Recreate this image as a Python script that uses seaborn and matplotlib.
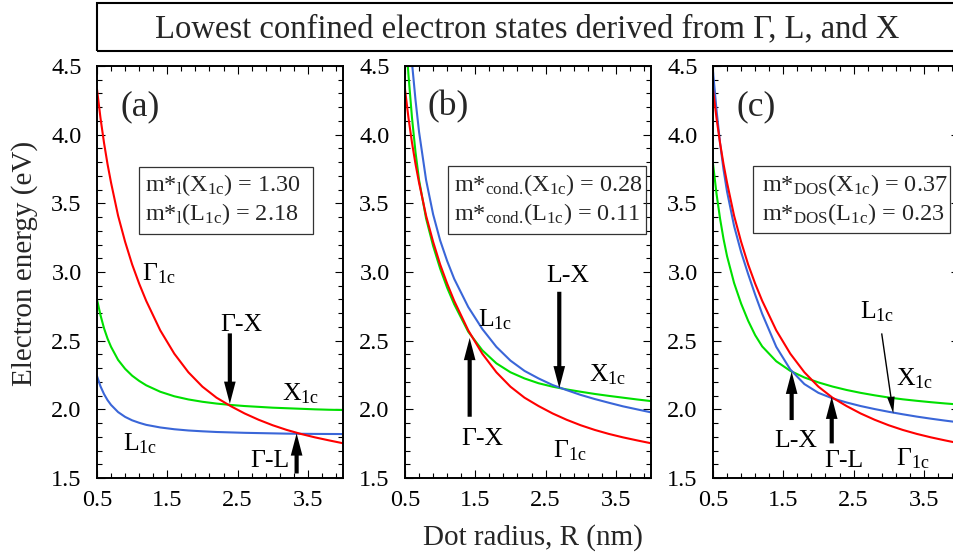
import matplotlib
matplotlib.use("Agg")
import matplotlib.pyplot as plt
from matplotlib.patches import Rectangle
from matplotlib.ticker import MultipleLocator, FixedLocator
import pandas as pd
import seaborn as sns

# Dot radius R (nm)
radius = [0.5, 0.55, 0.6, 0.65, 0.7, 0.8, 0.9, 1.0, 1.1, 1.2, 1.4, 1.6,
          1.8, 2.0, 2.2, 2.4, 2.6, 2.8, 3.0, 3.2, 3.4, 3.6, 3.8, 4.0]

# Gamma-derived state (same in every panel), eV
gamma_1c = [4.33, 4.12, 3.94, 3.785, 3.65, 3.41, 3.22, 3.055, 2.915, 2.79,
            2.575, 2.405, 2.27, 2.165, 2.085, 2.024, 1.970, 1.924, 1.884,
            1.85, 1.821, 1.796, 1.774, 1.753]

# (a) longitudinal masses
x1c_long = [2.80, 2.685, 2.59, 2.515, 2.455, 2.36, 2.295, 2.245, 2.207, 2.175,
            2.128, 2.095, 2.072, 2.055, 2.042, 2.032, 2.024, 2.018, 2.012,
            2.008, 2.004, 2.0, 1.997, 1.995]
l1c_long = [2.242, 2.167, 2.111, 2.067, 2.032, 1.98, 1.945, 1.92, 1.902, 1.887,
            1.868, 1.855, 1.846, 1.84, 1.835, 1.832, 1.829, 1.827, 1.825,
            1.823, 1.822, 1.821, 1.8205, 1.82]

# (b) conductivity masses
x1c_cond = [4.80, 4.43, 4.12, 3.87, 3.67, 3.39, 3.19, 3.025, 2.885, 2.765,
            2.565, 2.43, 2.335, 2.27, 2.225, 2.19, 2.165, 2.145, 2.128, 2.112,
            2.098, 2.085, 2.072, 2.06]
l1c_cond = [5.2, 4.84, 4.52, 4.25, 4.02, 3.67, 3.42, 3.23, 3.08, 2.95, 2.745,
            2.585, 2.455, 2.355, 2.28, 2.225, 2.177, 2.14, 2.105, 2.075, 2.048,
            2.022, 2.0, 1.978]

# (c) density-of-states masses
x1c_dos = [3.79, 3.57, 3.39, 3.24, 3.115, 2.92, 2.77, 2.645, 2.54, 2.458, 2.35,
           2.28, 2.232, 2.196, 2.166, 2.141, 2.12, 2.102, 2.086, 2.073, 2.062,
           2.052, 2.043, 2.035]
l1c_dos = [4.46, 4.18, 3.94, 3.745, 3.585, 3.335, 3.145, 2.985, 2.835, 2.695,
           2.455, 2.29, 2.184, 2.12, 2.08, 2.05, 2.024, 2.002, 1.982, 1.964,
           1.947, 1.932, 1.918, 1.905]

x_ticks = [0.5, 1.5, 2.5, 3.5]
y_ticks = [1.5, 2.0, 2.5, 3.0, 3.5, 4.0, 4.5]
panel_tags = ["(a)", "(b)", "(c)"]
mass_kind = [r"l", r"cond.\!", r"DOS"]
mass_x = ["1.30", "0.28", "0.37"]
mass_l = ["2.18", "0.11", "0.23"]

sns.set_theme(style="ticks")
plt.rcParams["font.family"] = ["Liberation Serif", "DejaVu Serif"]
plt.rcParams["mathtext.fontset"] = "custom"
plt.rcParams["mathtext.rm"] = "Liberation Serif"
plt.rcParams["mathtext.it"] = "Liberation Serif:italic"
plt.rcParams["mathtext.bf"] = "Liberation Serif:bold"

palette = {"G": "#ff0000", "X": "#00e000", "L": "#3a66d8"}

W, H = 954, 560
fig = plt.figure(figsize=(W / 100, H / 100), dpi=100)
fig.patch.set_facecolor("white")

ax_left = [97, 405, 713]
ax_w, ax_top, ax_bot = 246, 66, 478


def thick_arrow(ax, x, y_from, y_to):
    ax.annotate("", xy=(x, y_to), xytext=(x, y_from),
                arrowprops=dict(arrowstyle="simple,head_length=0.8,head_width=0.42,tail_width=0.15",
                                mutation_scale=20, fc="black", ec="none",
                                shrinkA=0, shrinkB=0))


def label(ax, x, y, s, size=18.5):
    ax.text(x, y, s, ha="left", va="baseline", fontsize=size, color="black")


sets = [(x1c_long, l1c_long), (x1c_cond, l1c_cond), (x1c_dos, l1c_dos)]
axes = []
for i, (xs, ls) in enumerate(sets):
    ax = fig.add_axes([ax_left[i] / W, 1 - ax_bot / H, ax_w / W, (ax_bot - ax_top) / H])
    df = pd.DataFrame({
        "R": radius * 3,
        "E": list(gamma_1c) + list(xs) + list(ls),
        "state": ["G"] * len(radius) + ["X"] * len(radius) + ["L"] * len(radius),
    })
    sns.lineplot(data=df, x="R", y="E", hue="state", hue_order=["X", "L", "G"],
                 palette=palette, ax=ax, legend=False, linewidth=1.5,
                 errorbar=None)
    ax.set_xlim(0.5, 4.0)
    ax.set_ylim(1.5, 4.5)
    ax.xaxis.set_major_locator(FixedLocator(x_ticks))
    ax.xaxis.set_minor_locator(MultipleLocator(0.2, offset=0.1))
    ax.yaxis.set_major_locator(FixedLocator(y_ticks))
    ax.yaxis.set_minor_locator(MultipleLocator(0.1))
    ax.set_xticklabels([f"{v:.1f}" for v in x_ticks])
    ax.set_yticklabels([f"{v:.1f}" for v in y_ticks])
    ax.tick_params(which="both", direction="in", top=True, right=True,
                   width=0.8, colors="black")
    ax.tick_params(which="major", length=6)
    ax.tick_params(which="minor", length=3.5)
    ax.tick_params(axis="x", which="major", labelsize=17.5, pad=8.5)
    ax.tick_params(axis="y", which="major", labelsize=17.5, pad=11)
    for sp in ax.spines.values():
        sp.set_linewidth(1.4)
        sp.set_color("black")
    ax.set_xlabel("")
    ax.set_ylabel("")
    ax.text(1.12, 4.2, panel_tags[i], ha="center", va="center", fontsize=25.5)
    axes.append(ax)

# mass boxes
boxes = [(1.10, 3.276, 3.567, 3.767), (1.116, 3.276, 3.928, 3.772),
         (1.065, 3.281, 3.87, 3.772)]
text_left = [1.183, 1.197, 1.193]
for i, ax in enumerate(axes):
    x0, y0, x1, y1 = boxes[i]
    ax.add_patch(Rectangle((x0, y0), x1 - x0, y1 - y0, fill=False,
                           lw=0.9, ec="#333333", zorder=3))
    sub = mass_kind[i]
    ax.text(text_left[i], 3.59, rf"m*$_{{\rm {sub}}}$(X$_{{\rm 1c}}$) = {mass_x[i]}",
            ha="left", va="baseline", fontsize=17.5)
    ax.text(text_left[i], 3.38, rf"m*$_{{\rm {sub}}}$(L$_{{\rm 1c}}$) = {mass_l[i]}",
            ha="left", va="baseline", fontsize=17.5)

sub1c = r"$_{\rm 1c}$"
# (a)
ax = axes[0]
label(ax, 1.135, 2.94, "Γ" + sub1c)
label(ax, 3.13, 2.067, "X" + sub1c)
label(ax, 0.875, 1.703, "L" + sub1c)
label(ax, 2.25, 2.572, "Γ-X")
thick_arrow(ax, 2.39, 2.553, 2.04)
label(ax, 2.676, 1.577, "Γ-L")
thick_arrow(ax, 3.34, 1.533, 1.825)

# (b)
ax = axes[1]
label(ax, 2.516, 2.929, "L-X")
thick_arrow(ax, 2.695, 2.856, 2.153)
label(ax, 1.543, 2.601, "L" + sub1c)
label(ax, 3.12, 2.20, "X" + sub1c)
label(ax, 1.306, 1.74, "Γ-X")
thick_arrow(ax, 1.42, 1.946, 2.52)
label(ax, 2.61, 1.652, "Γ" + sub1c)

# (c)
ax = axes[2]
label(ax, 2.59, 2.662, "L" + sub1c)
ax.annotate("", xy=(3.065, 1.97), xytext=(2.90, 2.553),
            arrowprops=dict(arrowstyle="simple,head_length=0.6,head_width=0.27,tail_width=0.05",
                            mutation_scale=20, fc="black", ec="none",
                            shrinkA=0, shrinkB=0))
label(ax, 3.11, 2.177, "X" + sub1c)
label(ax, 1.368, 1.727, "L-X")
thick_arrow(ax, 1.619, 1.922, 2.274)
label(ax, 2.079, 1.582, "Γ-L")
thick_arrow(ax, 2.189, 1.752, 2.092)
label(ax, 3.11, 1.59, "Γ" + sub1c)

# heading box
fig.add_artist(Rectangle((97 / W, 1 - 51 / H), (962 - 97) / W, 48 / H,
                         transform=fig.transFigure, fill=False, lw=1.5,
                         ec="black"))
fig.text(527 / W, 1 - 37 / H,
         "Lowest confined electron states derived from Γ, L, and X",
         ha="center", va="baseline", fontsize=23.5)

fig.text(25 / W, 1 - 263 / H, "Electron energy (eV)", rotation=90,
         ha="center", va="center", fontsize=21)
fig.text(533 / W, 1 - 545 / H, "Dot radius, R (nm)", ha="center",
         va="baseline", fontsize=21)

fig.savefig("out.png", dpi=100, facecolor="white")
